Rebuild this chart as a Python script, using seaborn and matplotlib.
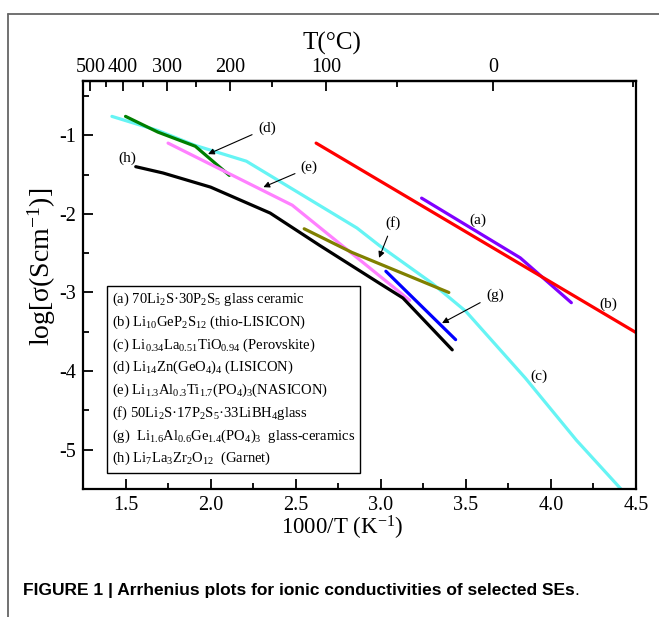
import numpy as np
import pandas as pd
import matplotlib
matplotlib.use("Agg")
import matplotlib.pyplot as plt
from matplotlib.lines import Line2D
from matplotlib.ticker import MultipleLocator, FixedLocator
import seaborn as sns

# x = 1000/T (K^-1), y = log(sigma / S cm^-1)
a_x = [3.24, 3.82, 4.12]
a_y = [-1.80, -2.56, -3.13]
b_x = [2.62, 4.50]
b_y = [-1.10, -3.51]
c_x = [1.42, 1.69, 1.91, 2.21, 2.86, 2.99, 3.30, 3.50, 3.85, 4.15, 4.42]
c_y = [-0.76, -0.94, -1.13, -1.33, -2.18, -2.40, -2.88, -3.24, -4.09, -4.88, -5.52]
d_x = [1.50, 1.69, 1.91, 2.11]
d_y = [-0.76, -0.96, -1.14, -1.51]
e_x = [1.75, 2.48, 3.17]
e_y = [-1.10, -1.89, -3.10]
f_x = [2.55, 2.83, 3.40]
f_y = [-2.19, -2.49, -3.00]
g_x = [3.03, 3.44]
g_y = [-2.73, -3.60]
h_x = [1.56, 1.72, 2.00, 2.35, 2.64, 2.99, 3.13, 3.42]
h_y = [-1.40, -1.48, -1.66, -1.99, -2.40, -2.88, -3.07, -3.73]

keys = ["a", "b", "c", "d", "e", "f", "g", "h"]
colors = ["#8000ff", "#ff0000", "#66f4f4", "#007f00",
          "#ff80ff", "#808000", "#0000ff", "#000000"]

legend_labels = [
    "(a) 70Li$_2$S·30P$_2$S$_5$ glass ceramic",
    "(b) Li$_{10}$GeP$_2$S$_{12}$ (thio-LISICON)",
    "(c) Li$_{0.34}$La$_{0.51}$TiO$_{0.94}$ (Perovskite)",
    "(d) Li$_{14}$Zn(GeO$_4$)$_4$ (LISICON)",
    "(e) Li$_{1.3}$Al$_{0.3}$Ti$_{1.7}$(PO$_4$)$_3$(NASICON)",
    "(f) 50Li$_2$S·17P$_2$S$_5$·33LiBH$_4$glass",
    "(g)  Li$_{1.6}$Al$_{0.6}$Ge$_{1.4}$(PO$_4$)$_3$  glass-ceramics",
    "(h) Li$_7$La$_3$Zr$_2$O$_{12}$  (Garnet)",
]

# curve labels: (text, label x, label y, arrow tip x, arrow tip y)
curve_tags = [
    ("(a)", 3.57, -2.08, None, None),
    ("(b)", 4.34, -3.15, None, None),
    ("(c)", 3.93, -4.07, None, None),
    ("(d)", 2.33, -0.91, 1.985, -1.24),
    ("(e)", 2.58, -1.41, 2.31, -1.66),
    ("(f)", 3.07, -2.12, 2.99, -2.56),
    ("(g)", 3.67, -3.03, 3.36, -3.39),
    ("(h)", 1.51, -1.29, None, None),
]

top_major = [500, 400, 300, 200, 100, 0]
top_minor = [450, 350, 250, 150, 50, -50]

CAPTION = "FIGURE 1 | Arrhenius plots for ionic conductivities of selected SEs"


def inv_to_c(x):
    x = np.asarray(x, dtype=float)
    with np.errstate(divide="ignore"):
        return 1000.0 / x - 273.15


def c_to_inv(t):
    t = np.asarray(t, dtype=float)
    with np.errstate(divide="ignore"):
        return 1000.0 / (t + 273.15)


def main():
    sns.set_style("ticks")
    plt.rcParams["font.family"] = ["Liberation Serif", "DejaVu Serif"]
    plt.rcParams["mathtext.fontset"] = "custom"
    plt.rcParams["mathtext.rm"] = "Liberation Serif"
    plt.rcParams["mathtext.it"] = "Liberation Serif:italic"
    plt.rcParams["axes.unicode_minus"] = False
    # seaborn greys the text, the figure uses plain black
    for key in ["text.color", "axes.labelcolor", "xtick.color",
                "ytick.color", "axes.edgecolor"]:
        plt.rcParams[key] = "black"

    xs = [a_x, b_x, c_x, d_x, e_x, f_x, g_x, h_x]
    ys = [a_y, b_y, c_y, d_y, e_y, f_y, g_y, h_y]
    df = pd.concat([
        pd.DataFrame({"x": x, "y": y, "curve": k})
        for k, x, y in zip(keys, xs, ys)
    ], ignore_index=True)

    fig = plt.figure(figsize=(6.59, 6.17), dpi=100)
    ax = fig.add_axes([83 / 659, 1 - 489 / 617, 553 / 659, 408 / 617])

    sns.lineplot(data=df, x="x", y="y", hue="curve", hue_order=keys,
                 palette=dict(zip(keys, colors)), units="curve",
                 estimator=None, sort=False, legend=False, lw=2.3, ax=ax)

    ax.set_xlim(1.25, 4.5)
    ax.set_ylim(-5.5, -0.31)
    ax.set_xlabel("")
    ax.set_ylabel("")
    ax.xaxis.set_major_locator(MultipleLocator(0.5))
    ax.xaxis.set_minor_locator(MultipleLocator(0.25))
    ax.yaxis.set_major_locator(MultipleLocator(1))
    ax.yaxis.set_minor_locator(MultipleLocator(0.5))
    ax.tick_params(which="both", direction="in", top=False, right=False,
                   width=1.3, labelsize=14.5, pad=5)
    ax.tick_params(which="major", length=7)
    ax.tick_params(which="minor", length=4)
    for s in ax.spines.values():
        s.set_linewidth(1.6)
        s.set_color("black")

    secax = ax.secondary_xaxis("top", functions=(inv_to_c, c_to_inv))
    secax.set_xticks(top_major)
    secax.set_xticklabels([str(t) for t in top_major])
    secax.xaxis.set_minor_locator(FixedLocator(top_minor))
    secax.tick_params(which="both", direction="in", width=1.3,
                      labelsize=14.5, pad=3)
    secax.tick_params(which="major", length=7)
    secax.tick_params(which="minor", length=4)
    secax.spines["top"].set_linewidth(1.6)

    for text, lx, ly, tx, ty in curve_tags:
        if tx is None:
            ax.text(lx, ly, text, fontsize=11, ha="center", va="center")
        else:
            ax.annotate(text, xy=(tx, ty), xytext=(lx, ly), fontsize=11,
                        ha="center", va="center",
                        arrowprops=dict(arrowstyle="-|>", color="black",
                                        lw=0.8, mutation_scale=9,
                                        shrinkA=2, shrinkB=0))

    leg = ax.legend(handles=ax.lines[:8], labels=legend_labels,
                    loc="upper left", bbox_to_anchor=(0.043, 0.498),
                    borderaxespad=0, handlelength=0, handletextpad=0,
                    frameon=True, fancybox=False, framealpha=1,
                    edgecolor="black", fontsize=10.5, labelspacing=0.37,
                    borderpad=0.35)
    for h in leg.legend_handles:
        h.set_visible(False)
    leg.get_frame().set_linewidth(1.0)

    # axis titles
    fig.text(332 / 659, 1 - 43 / 617, "T(°C)", fontsize=18,
             ha="center", va="center")
    fig.text(342 / 659, 1 - 528 / 617, "1000/T (K$^{-1}$)", fontsize=16.5,
             ha="center", va="center")
    fig.text(42 / 659, 1 - 267 / 617, "log[σ(Scm$^{-1}$)]", fontsize=20,
             ha="center", va="center", rotation=90)

    # panel frame and caption
    fig.add_artist(Line2D([8 / 659, 8 / 659], [0, 1 - 14 / 617],
                          color="#666666", lw=1.3))
    fig.add_artist(Line2D([8 / 659, 1], [1 - 14 / 617, 1 - 14 / 617],
                          color="#666666", lw=1.3))
    cap = fig.text(23 / 659, 1 - 598 / 617, CAPTION, fontsize=12.5,
                   fontweight="bold", family=["Liberation Sans"],
                   ha="left", va="bottom")
    ax.annotate(".", xy=(1, 0), xycoords=cap, fontsize=12.5,
                family=["Liberation Sans"], va="bottom", ha="left",
                annotation_clip=False)

    fig.savefig("out.png", dpi=100)


if __name__ == "__main__":
    main()
